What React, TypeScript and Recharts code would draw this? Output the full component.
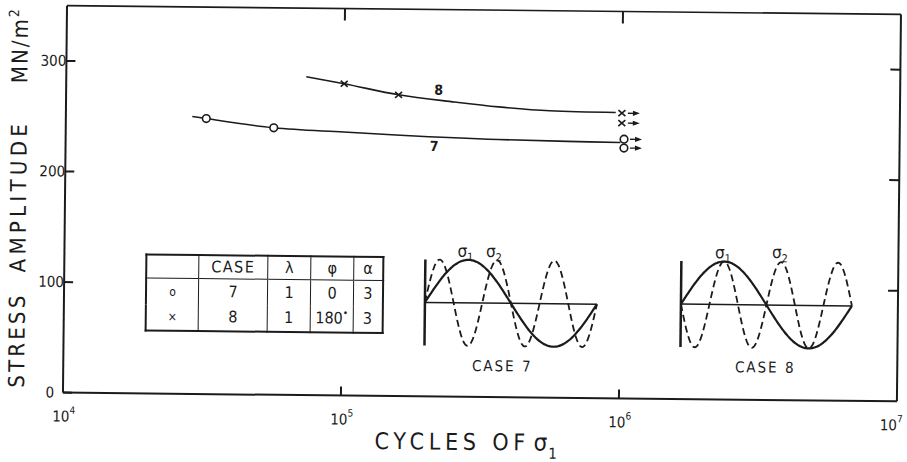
import React from "react";
import {
  ComposedChart,
  LineChart,
  Line,
  Scatter,
  XAxis,
  YAxis,
  ReferenceDot,
  ReferenceLine,
} from "recharts";

const FONT = '"DejaVu Sans Condensed", "DejaVu Sans", sans-serif';
const NARROW = '"Liberation Sans Narrow", "DejaVu Sans Condensed", sans-serif';
const INK = "#1b1b1b";

// axes
const cycleTicks = [1e4, 1e5, 1e6, 1e7];
const cycleExponents = ["4", "5", "6", "7"];
const stressTicks = [0, 100, 200, 300];

// S-N curves (cycles, MN/m²)
const case7Curve = [
  { x: 2.85e4, y: 251 },
  { x: 3.2e4, y: 249.2 },
  { x: 5.6e4, y: 241.5 },
  { x: 1e5, y: 238.3 },
  { x: 1.6e5, y: 236 },
  { x: 3.6e5, y: 233 },
  { x: 6.4e5, y: 232 },
  { x: 9.9e5, y: 231.5 },
];
const case8Curve = [
  { x: 7.3e4, y: 288 },
  { x: 1e5, y: 282 },
  { x: 1.57e5, y: 272.5 },
  { x: 2.5e5, y: 266.5 },
  { x: 3.6e5, y: 262.5 },
  { x: 5.5e5, y: 259.5 },
  { x: 9.5e5, y: 258.5 },
];

// test points
const case7Points = [
  { x: 3.2e4, y: 249.2 },
  { x: 5.6e4, y: 241.5 },
];
const case8Points = [
  { x: 1e5, y: 282 },
  { x: 1.57e5, y: 272.5 },
];

// unbroken specimens (run-outs)
const case7Runouts = [
  { x: 1.02e6, y: 234.5 },
  { x: 1.02e6, y: 226.5 },
];
const case8Runouts = [
  { x: 1e6, y: 258 },
  { x: 1e6, y: 249 },
];

// loading table
const tableHead = ["", "CASE", "λ", "φ", "α"];
const tableRows = [
  { mark: "o", name: "7", lambda: 1, phi: 0, alpha: 3 },
  { mark: "×", name: "8", lambda: 1, phi: 180, alpha: 3 },
];

const LeftTick = (p: any) => (
  <g>
    <line x1={p.x} x2={p.x + 9} y1={p.y} y2={p.y} stroke={INK} strokeWidth={2} />
    <text
      x={p.x - 13}
      y={p.y}
      textAnchor="middle"
      dominantBaseline="central"
      fontFamily={NARROW}
      fontSize={15}
      fill={INK}
    >
      {p.payload.value}
    </text>
  </g>
);

const RightTick = (p: any) => (
  <line x1={p.x} x2={p.x - 10} y1={p.y} y2={p.y} stroke={INK} strokeWidth={2} />
);

const TopTick = (p: any) => (
  <line x1={p.x} x2={p.x} y1={p.y} y2={p.y + 12} stroke={INK} strokeWidth={2} />
);

const BottomTick = (p: any) => {
  const i = cycleTicks.indexOf(p.payload.value);
  const last = i === cycleTicks.length - 1;
  return (
    <g>
      {i > 0 && !last && (
        <line x1={p.x} x2={p.x} y1={p.y} y2={p.y - 9} stroke={INK} strokeWidth={2} />
      )}
      <text
        x={last ? p.x + 6 : p.x + 1}
        y={p.y + 29}
        textAnchor={last ? "end" : "middle"}
        fontFamily={NARROW}
        fontSize={15}
        fill={INK}
      >
        10
        <tspan dy={-8} fontSize={10}>
          {cycleExponents[i]}
        </tspan>
      </text>
    </g>
  );
};

const CircleMark = (p: any) => (
  <circle cx={p.cx} cy={p.cy} r={3.8} fill="#fff" stroke={INK} strokeWidth={1.6} />
);

const CrossMark = (p: any) => (
  <g stroke={INK} strokeWidth={1.6}>
    <line x1={p.cx - 3.5} x2={p.cx + 3.5} y1={p.cy - 3} y2={p.cy + 3} />
    <line x1={p.cx - 3.5} x2={p.cx + 3.5} y1={p.cy + 3} y2={p.cy - 3} />
  </g>
);

const Arrow = ({ cx, cy }: any) => (
  <g>
    <line x1={cx + 6} x2={cx + 12} y1={cy} y2={cy} stroke={INK} strokeWidth={1.3} />
    <path d={`M${cx + 11},${cy - 2.6} L${cx + 18},${cy} L${cx + 11},${cy + 2.6} Z`} fill={INK} />
  </g>
);

const CircleRunout = (p: any) => (
  <g>
    <CircleMark {...p} />
    <Arrow cx={p.cx} cy={p.cy} />
  </g>
);

const CrossRunout = (p: any) => (
  <g>
    <CrossMark {...p} />
    <Arrow cx={p.cx} cy={p.cy} />
  </g>
);

const curveLabel = (txt: string) => (p: any) => (
  <text
    x={p.cx}
    y={p.cy}
    textAnchor="middle"
    dominantBaseline="central"
    fontFamily={FONT}
    fontSize={14}
    fontWeight="bold"
    fill={INK}
  >
    {txt}
  </text>
);

function waveData(lambda: number, phi: number, alpha: number) {
  // schematic load histories: sigma1 = sin t, sigma2 = lambda sin(alpha t + phi)
  const pts = [];
  for (let t = 0; t <= 360; t += 3) {
    const r = Math.PI / 180;
    pts.push({
      t,
      s1: Math.sin(t * r),
      s2: lambda * Math.sin((alpha * t + phi) * r),
    });
  }
  return pts;
}

function LoadInset({ row, left, top, width }: any) {
  const data = waveData(row.lambda, row.phi, row.alpha);
  return (
    <div style={{ position: "absolute", left, top }}>
      <LineChart
        width={width}
        height={92}
        data={data}
        margin={{ top: 3, right: 3, bottom: 3, left: 3 }}
      >
        <XAxis dataKey="t" type="number" domain={[0, 360]} hide />
        <YAxis type="number" domain={[-1, 1]} hide />
        <ReferenceLine y={0} stroke={INK} strokeWidth={1.5} />
        <ReferenceLine x={0} stroke={INK} strokeWidth={2.5} />
        <Line
          dataKey="s2"
          type="monotone"
          dot={false}
          stroke={INK}
          strokeWidth={1.8}
          strokeDasharray="7 4"
          isAnimationActive={false}
        />
        <Line
          dataKey="s1"
          type="monotone"
          dot={false}
          stroke={INK}
          strokeWidth={2.2}
          isAnimationActive={false}
        />
      </LineChart>
    </div>
  );
}

function CaseTable() {
  const cols = [52.5, 69, 43, 43, 29];
  const cell = (i: number): React.CSSProperties => ({
    borderLeft: i ? `1.5px solid ${INK}` : "none",
    padding: 0,
    textAlign: "center",
    lineHeight: 1,
  });
  return (
    <table
      style={{
        position: "absolute",
        left: 146,
        top: 257,
        width: 237,
        height: 76,
        borderCollapse: "collapse",
        tableLayout: "fixed",
        border: `2px solid ${INK}`,
        fontFamily: FONT,
        fontSize: 16,
        color: INK,
      }}
    >
      <colgroup>
        {cols.map((w, i) => (
          <col key={i} style={{ width: w }} />
        ))}
      </colgroup>
      <tbody>
        <tr style={{ height: 23.5, borderBottom: `1.5px solid ${INK}` }}>
          {tableHead.map((h, i) => (
            <td key={i} style={{ ...cell(i), letterSpacing: i === 1 ? 1.5 : 0 }}>
              {h}
            </td>
          ))}
        </tr>
        {tableRows.map((r) => (
          <tr key={r.name} style={{ height: 26 }}>
            <td style={{ ...cell(0), fontSize: 12 }}>{r.mark}</td>
            <td style={cell(1)}>{r.name}</td>
            <td style={cell(2)}>{r.lambda}</td>
            <td style={cell(3)}>
              {r.phi}
              {r.phi ? (
                <span style={{ position: "relative", top: -7, fontSize: 10 }}>•</span>
              ) : null}
            </td>
            <td style={cell(4)}>{r.alpha}</td>
          </tr>
        ))}
      </tbody>
    </table>
  );
}

function Sigma({ x, y, sub }: any) {
  return (
    <text x={x} y={y} textAnchor="middle" fontFamily={FONT} fill={INK}>
      <tspan fontSize={17}>σ</tspan>
      <tspan fontSize={11} dy={4}>
        {sub}
      </tspan>
    </text>
  );
}

export default function App() {
  const axisLine = { stroke: INK, strokeWidth: 2 };
  return (
    <div
      style={{
        position: "absolute",
        left: 0,
        top: 0,
        width: 907,
        height: 462,
        background: "#fff",
        transform: "rotate(0.6deg)",
        transformOrigin: "482px 200px",
      }}
    >
      <ComposedChart width={907} height={462} margin={{ top: 9, right: 7, bottom: 0, left: 0 }}>
        <XAxis
          xAxisId="b"
          dataKey="x"
          type="number"
          scale="log"
          domain={[1e4, 1e7]}
          allowDataOverflow
          ticks={cycleTicks}
          interval={0}
          height={65}
          tickSize={0}
          tickMargin={0}
          tickLine={false}
          axisLine={axisLine}
          tick={(p: any) => <BottomTick {...p} />}
        />
        <XAxis
          xAxisId="t"
          orientation="top"
          dataKey="x"
          type="number"
          scale="log"
          domain={[1e4, 1e7]}
          allowDataOverflow
          ticks={[1e5, 1e6]}
          interval={0}
          height={1}
          tickSize={0}
          tickMargin={0}
          tickLine={false}
          axisLine={{ stroke: INK, strokeWidth: 1.6 }}
          tick={(p: any) => <TopTick {...p} />}
        />
        <YAxis
          yAxisId="l"
          type="number"
          domain={[0, 350]}
          allowDataOverflow
          ticks={stressTicks}
          interval={0}
          width={65}
          tickSize={0}
          tickMargin={0}
          tickLine={false}
          axisLine={axisLine}
          tick={(p: any) => <LeftTick {...p} />}
        />
        <YAxis
          yAxisId="r"
          orientation="right"
          type="number"
          domain={[0, 350]}
          allowDataOverflow
          ticks={[100, 200, 300]}
          interval={0}
          width={1}
          tickSize={0}
          tickMargin={0}
          tickLine={false}
          axisLine={axisLine}
          tick={(p: any) => <RightTick {...p} />}
        />

        <Line
          xAxisId="b"
          yAxisId="l"
          data={case7Curve}
          dataKey="y"
          type="monotone"
          dot={false}
          stroke={INK}
          strokeWidth={1.6}
          isAnimationActive={false}
        />
        <Line
          xAxisId="b"
          yAxisId="l"
          data={case8Curve}
          dataKey="y"
          type="monotone"
          dot={false}
          stroke={INK}
          strokeWidth={1.6}
          isAnimationActive={false}
        />
        <Scatter xAxisId="b" yAxisId="l" data={case7Points} dataKey="y" shape={CircleMark} isAnimationActive={false} />
        <Scatter xAxisId="b" yAxisId="l" data={case8Points} dataKey="y" shape={CrossMark} isAnimationActive={false} />
        <Scatter xAxisId="b" yAxisId="l" data={case7Runouts} dataKey="y" shape={CircleRunout} isAnimationActive={false} />
        <Scatter xAxisId="b" yAxisId="l" data={case8Runouts} dataKey="y" shape={CrossRunout} isAnimationActive={false} />

        <ReferenceDot xAxisId="b" yAxisId="l" x={2.19e5} y={277.3} r={0} shape={curveLabel("8")} />
        <ReferenceDot xAxisId="b" yAxisId="l" x={2.12e5} y={226.6} r={0} shape={curveLabel("7")} />
      </ComposedChart>

      <CaseTable />
      <LoadInset row={tableRows[0]} left={423} top={257} width={178} />
      <LoadInset row={tableRows[1]} left={679} top={256} width={177} />

      <svg
        width={907}
        height={462}
        style={{ position: "absolute", left: 0, top: 0, pointerEvents: "none" }}
      >
        <g fontFamily={FONT} fontSize={22} fill={INK}>
          <text transform="translate(26,345) rotate(-90)" textAnchor="middle" letterSpacing={3.2}>
            STRESS
          </text>
          <text transform="translate(26,201) rotate(-90)" textAnchor="middle" letterSpacing={4.3}>
            AMPLITUDE
          </text>
          <text transform="translate(26,50) rotate(-90)" textAnchor="middle" letterSpacing={2}>
            MN/m
            <tspan fontSize={14} dy={-9}>
              2
            </tspan>
          </text>
          <text x={377} y={450} fontSize={23} letterSpacing={4.8}>
            CYCLES OF
          </text>
          <text x={536} y={450} fontSize={24}>
            σ
          </text>
          <text x={551} y={458} fontSize={15}>
            1
          </text>
        </g>
        <Sigma x={466} y={257} sub="1" />
        <Sigma x={494.5} y={257} sub="2" />
        <Sigma x={723.5} y={255.7} sub="1" />
        <Sigma x={780.5} y={255} sub="2" />
        <g fontFamily={FONT} fontSize={15} fill={INK} textAnchor="middle" letterSpacing={2}>
          <text x={504} y={371}>
            CASE 7
          </text>
          <text x={767} y={369.5}>
            CASE 8
          </text>
        </g>
      </svg>
    </div>
  );
}
